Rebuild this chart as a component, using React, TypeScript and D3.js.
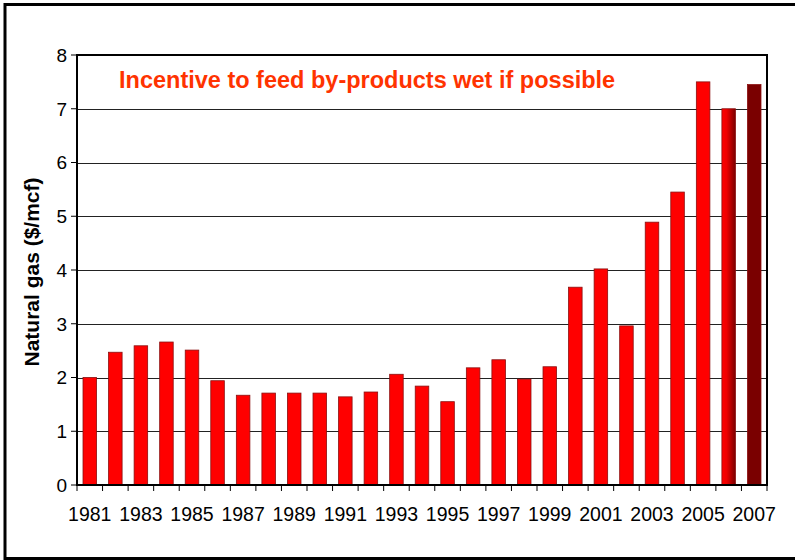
import React from "react";
import * as d3 from "d3";

const years: string[] = [
  "1981","1982","1983","1984","1985","1986","1987","1988","1989","1990",
  "1991","1992","1993","1994","1995","1996","1997","1998","1999","2000",
  "2001","2002","2003","2004","2005","2006","2007",
];
const prices: number[] = [
  2.0, 2.47, 2.59, 2.66, 2.51, 1.94, 1.67, 1.71, 1.71, 1.71,
  1.64, 1.73, 2.06, 1.84, 1.55, 2.18, 2.33, 1.97, 2.2, 3.68,
  4.02, 2.96, 4.89, 5.45, 7.5, 7.0, 7.45,
];
const yTicks: number[] = [0, 1, 2, 3, 4, 5, 6, 7, 8];
const xLabelYears: string[] = years.filter((_, i) => i % 2 === 0);
const title = "Incentive to feed by-products wet if possible";
const yLabel = "Natural gas ($/mcf)";

const W = 795;
const H = 560;
const left = 77;
const right = 767;
const top = 55;
const bottom = 485;

export default function App() {
  const x = d3.scaleBand<string>().domain(years).range([left, right]).paddingInner(0.47).paddingOuter(0.235);
  const xb = d3.scaleBand<string>().domain(years).range([left, right]);
  const y = d3.scaleLinear().domain([0, 8]).range([bottom, top]);
  const font = "Arial, 'Liberation Sans', sans-serif";

  const fillFor = (yr: string) =>
    yr === "2006" ? "url(#grad2006)" : yr === "2007" ? "#7a0000" : "#ff0000";

  return (
    <svg width={W} height={H} style={{ position: "fixed", left: 0, top: 0 }} fontFamily={font}>
      <defs>
        <linearGradient id="grad2006" x1="0" x2="1" y1="0" y2="0">
          <stop offset="0" stopColor="#ff0000" />
          <stop offset="0.35" stopColor="#ee0000" />
          <stop offset="1" stopColor="#7a0000" />
        </linearGradient>
      </defs>
      <rect x={0} y={0} width={W} height={H} fill="#fff" />
      <rect x={5} y={4.5} width={W + 10} height={554} fill="none" stroke="#000" strokeWidth={3} />

      {/* gridlines */}
      {yTicks.filter((t) => t > 0 && t < 8).map((t) => (
        <line key={"g" + t} x1={left} x2={right} y1={Math.round(y(t)) + 0.5} y2={Math.round(y(t)) + 0.5} stroke="#222" strokeWidth={1} />
      ))}

      {/* bars */}
      {years.map((yr, i) => (
        <rect
          key={yr}
          x={x(yr)!}
          y={y(prices[i])}
          width={x.bandwidth()}
          height={bottom - y(prices[i])}
          fill={fillFor(yr)}
          stroke="#8a1010"
          strokeWidth={0.8}
        />
      ))}

      {/* plot frame */}
      <rect x={left} y={top} width={right - left} height={bottom - top} fill="none" stroke="#000" strokeWidth={2} />

      {/* y ticks */}
      {yTicks.map((t) => (
        <g key={"y" + t}>
          <line x1={left - 6} x2={left} y1={y(t)} y2={y(t)} stroke="#000" strokeWidth={1} />
          <text x={left - 10} y={y(t)} dy="0.36em" textAnchor="end" fontSize={19} fill="#000">{t}</text>
        </g>
      ))}

      {/* x ticks */}
      {years.concat(["end"]).map((yr, i) => {
        const xp = i < years.length ? xb(yr)! : right;
        return <line key={"xt" + i} x1={xp} x2={xp} y1={bottom} y2={bottom + 6} stroke="#000" strokeWidth={1} />;
      })}
      {xLabelYears.map((yr) => (
        <text key={"xl" + yr} x={xb(yr)! + xb.bandwidth() / 2} y={521} textAnchor="middle" fontSize={19.5} fill="#000">{yr}</text>
      ))}

      <text x={119} y={88} fontSize={23.5} fontWeight="bold" fill="#ff3300">{title}</text>

      <text transform={`translate(39,272) rotate(-90)`} textAnchor="middle" fontSize={21} fontWeight="bold" fill="#000">{yLabel}</text>
    </svg>
  );
}
